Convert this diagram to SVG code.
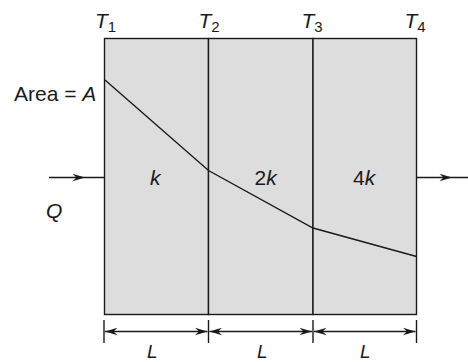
<svg xmlns="http://www.w3.org/2000/svg" width="468" height="362" viewBox="0 0 468 362">
  <defs>
    <style>
      .ln { stroke: #1a1a1a; stroke-width: 1.4; fill: none; }
      .wall { fill: #dddddd; stroke: #1a1a1a; stroke-width: 1.4; }
      .t { font-family: "Liberation Sans", Arial, sans-serif; font-size: 21px; fill: #1a1a1a; }
      .i { font-style: italic; }
      .sub { font-size: 15px; font-style: normal; }
      .s19 { font-size: 19px; }
    </style>
    <marker id="ah" viewBox="-13 -5 14 10" markerWidth="14" markerHeight="10" refX="0" refY="0" orient="auto-start-reverse" markerUnits="userSpaceOnUse">
      <path d="M0,0 L-12.5,-3.8 L-8.5,0 L-12.5,3.8 Z" fill="#1a1a1a"/>
    </marker>
  </defs>

  <g id="wall1">
    <rect class="wall" x="104.5" y="38.5" width="104" height="276"/>
  </g>
  <g id="wall2">
    <rect class="wall" x="208.5" y="38.5" width="104.5" height="276"/>
  </g>
  <g id="wall3">
    <rect class="wall" x="313" y="38.5" width="103.5" height="276"/>
  </g>

  <g id="connectors">
    <polyline class="ln" points="105,80 208.5,170.5 313,228 416.5,256.5"/>
    <polyline class="ln" points="49,177.5 85,177.5 104.5,177.5" marker-mid="url(#ah)"/>
    <polyline class="ln" points="416.5,177.5 452,177.5 468,177.5" marker-mid="url(#ah)"/>
    <line class="ln" x1="104" y1="320" x2="104" y2="343"/>
    <line class="ln" x1="208.5" y1="320" x2="208.5" y2="343"/>
    <line class="ln" x1="313" y1="320" x2="313" y2="343"/>
    <line class="ln" x1="416.5" y1="320" x2="416.5" y2="343"/>
    <line class="ln" x1="105" y1="331.5" x2="207.5" y2="331.5" marker-start="url(#ah)" marker-end="url(#ah)"/>
    <line class="ln" x1="209.5" y1="331.5" x2="312" y2="331.5" marker-start="url(#ah)" marker-end="url(#ah)"/>
    <line class="ln" x1="314" y1="331.5" x2="415.5" y2="331.5" marker-start="url(#ah)" marker-end="url(#ah)"/>
  </g>

  <g id="labels">
    <text class="t i" x="95" y="28">T<tspan class="sub" dy="4">1</tspan></text>
    <text class="t i" x="198.5" y="28">T<tspan class="sub" dy="4">2</tspan></text>
    <text class="t i" x="301.5" y="28">T<tspan class="sub" dy="4">3</tspan></text>
    <text class="t i" x="404.5" y="28">T<tspan class="sub" dy="4">4</tspan></text>
    <text class="t" x="14" y="100.5">Area = <tspan class="i">A</tspan></text>
    <text class="t i" x="150" y="185">k</text>
    <text class="t" x="254.5" y="185">2<tspan class="i">k</tspan></text>
    <text class="t" x="353" y="185">4<tspan class="i">k</tspan></text>
    <text class="t i" x="46" y="217.5">Q</text>
    <text class="t i s19" x="147" y="357.5">L</text>
    <text class="t i s19" x="257" y="357.5">L</text>
    <text class="t i s19" x="360" y="357.5">L</text>
  </g>
</svg>
